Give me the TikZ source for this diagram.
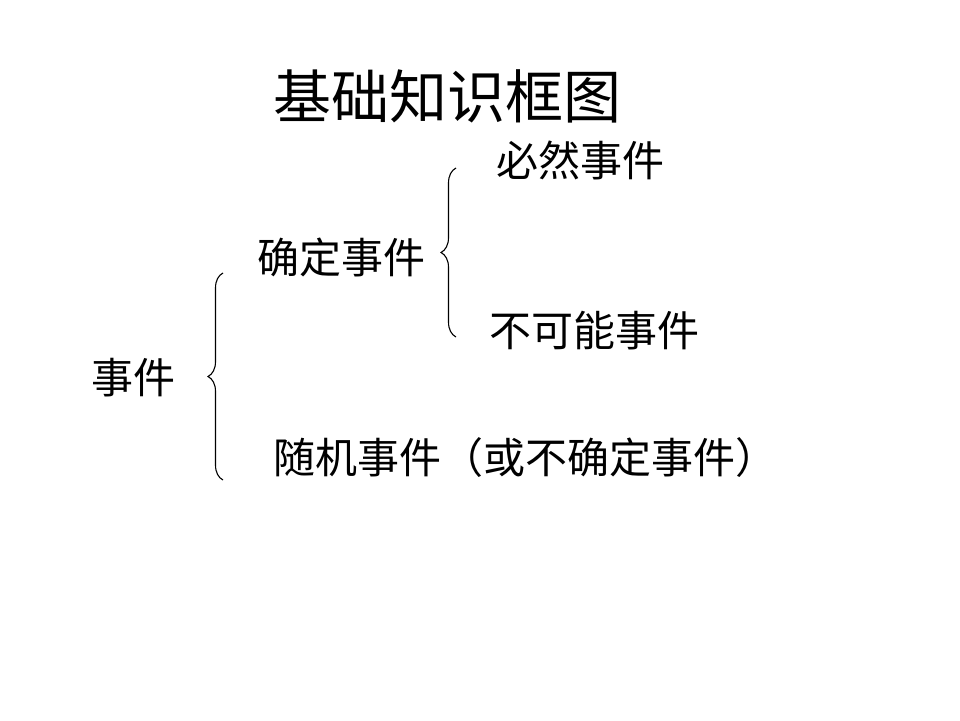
\documentclass[tikz,border=0pt]{standalone}
\usepackage{fontspec}
\setmainfont{Noto Sans CJK SC}
\usetikzlibrary{decorations.pathreplacing}

\begin{document}
\begin{tikzpicture}[
    x=1pt, y=-1pt,
    lbl/.style={anchor=west, inner sep=0pt, font=\fontsize{42}{46}\selectfont},
    ttl/.style={anchor=west, inner sep=0pt, font=\fontsize{58}{62}\selectfont},
    brc/.style={decorate, decoration={brace, amplitude=15pt, aspect=0.5}, line width=1.1pt},
]
\useasboundingbox (0,0) rectangle (960,720);

% Title
\node[ttl] (title) at (273,96) {基础知识框图};

% Left level
\node[lbl] (ev)   at (91,378)  {事件};
\node[lbl] (det)  at (257,257) {确定事件};
\node[lbl] (rnd)  at (273,458) {随机事件（或不确定事件）};

% Right level
\node[lbl] (sure) at (496,160) {必然事件};
\node[lbl] (imp)  at (489,331) {不可能事件};

% Braces
\coordinate (b1top) at (223,273);
\coordinate (b1bot) at (223,480);
\coordinate (b2top) at (456,168);
\coordinate (b2bot) at (456,337);
\draw[brc] (b1bot) -- (b1top);
\draw[brc] (b2bot) -- (b2top);

\end{tikzpicture}
\end{document}
